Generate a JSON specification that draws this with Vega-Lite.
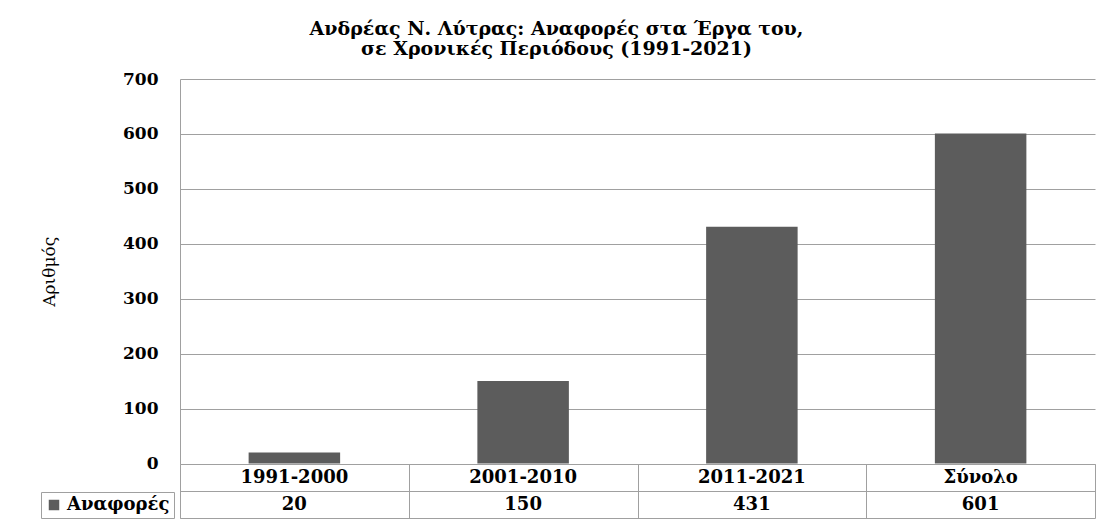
{
  "$schema": "https://vega.github.io/schema/vega-lite/v6.json",
  "padding": {"left": 40, "top": 20, "right": 11, "bottom": 1},
  "background": "white",
  "data": {"values": [
    {"Περίοδος": "1991-2000", "Αναφορές": 20},
    {"Περίοδος": "2001-2010", "Αναφορές": 150},
    {"Περίοδος": "2011-2021", "Αναφορές": 431},
    {"Περίοδος": "Σύνολο", "Αναφορές": 601}
  ]},
  "spacing": 0,
  "bounds": "flush",
  "config": {
    "view": {"stroke": null},
    "font": "DejaVu Serif",
    "axis": {
      "labelFont": "DejaVu Serif",
      "titleFont": "DejaVu Serif",
      "labelColor": "black",
      "titleColor": "black",
      "domainColor": "#a0a0a0",
      "gridColor": "#a0a0a0",
      "tickColor": "#a0a0a0",
      "gridOpacity": 1
    }
  },
  "vconcat": [
    {
      "width": 915,
      "height": 384.5,
      "title": {
        "text": ["Ανδρέας Ν. Λύτρας: Αναφορές στα Έργα του,", "σε Χρονικές Περιόδους (1991-2021)"],
        "font": "DejaVu Serif",
        "fontSize": 19,
        "fontWeight": "bold",
        "color": "black",
        "anchor": "middle",
        "frame": "group",
        "dx": -81,
        "offset": 11,
        "lineHeight": 20
      },
      "mark": {"type": "bar"},
      "encoding": {
        "x": {
          "field": "Περίοδος",
          "type": "nominal",
          "sort": null,
          "scale": {"paddingInner": 0.6, "paddingOuter": 0.3},
          "axis": null
        },
        "y": {
          "field": "Αναφορές",
          "type": "quantitative",
          "scale": {"domain": [0, 700]},
          "axis": {
            "values": [0, 100, 200, 300, 400, 500, 600, 700],
            "title": "Αριθμός",
            "titleFontSize": 17,
            "titleFontWeight": "normal",
            "titlePadding": 64,
            "labelFontSize": 17,
            "labelFontWeight": "bold",
            "labelPadding": 22,
            "ticks": false,
            "grid": true
          }
        },
        "color": {
          "datum": "Αναφορές",
          "type": "nominal",
          "scale": {"range": ["#5c5c5c"]},
          "legend": {
            "orient": "none",
            "legendX": -139,
            "legendY": 413,
            "title": null,
            "symbolType": "square",
            "symbolSize": 110,
            "symbolStrokeWidth": 0,
            "strokeColor": "#a0a0a0",
            "fillColor": "white",
            "padding": 4,
            "labelFont": "DejaVu Serif",
            "labelFontSize": 18,
            "labelFontWeight": "bold",
            "labelColor": "black",
            "labelOffset": 4
          }
        }
      }
    },
    {
      "width": 915,
      "height": 54,
      "layer": [
        {
          "mark": {"type": "text", "font": "DejaVu Serif", "fontSize": 18, "fontWeight": "bold", "color": "black"},
          "encoding": {
            "x": {
              "field": "Περίοδος",
              "type": "nominal",
              "sort": null,
              "scale": {"paddingInner": 0, "paddingOuter": 0},
              "axis": {"grid": true, "tickBand": "extent", "labels": false, "ticks": false, "domain": false, "title": null}
            },
            "y": {
              "datum": "Περίοδος",
              "type": "nominal",
              "scale": {"domain": ["Περίοδος", "Αναφορές"], "paddingInner": 0, "paddingOuter": 0},
              "axis": {"grid": true, "tickBand": "extent", "labels": false, "ticks": false, "domain": true, "title": null}
            },
            "text": {"field": "Περίοδος"}
          }
        },
        {
          "mark": {"type": "text", "font": "DejaVu Serif", "fontSize": 18, "fontWeight": "bold", "color": "black"},
          "encoding": {
            "x": {"field": "Περίοδος", "type": "nominal", "sort": null},
            "y": {"datum": "Αναφορές", "type": "nominal"},
            "text": {"field": "Αναφορές"}
          }
        }
      ]
    }
  ]
}
